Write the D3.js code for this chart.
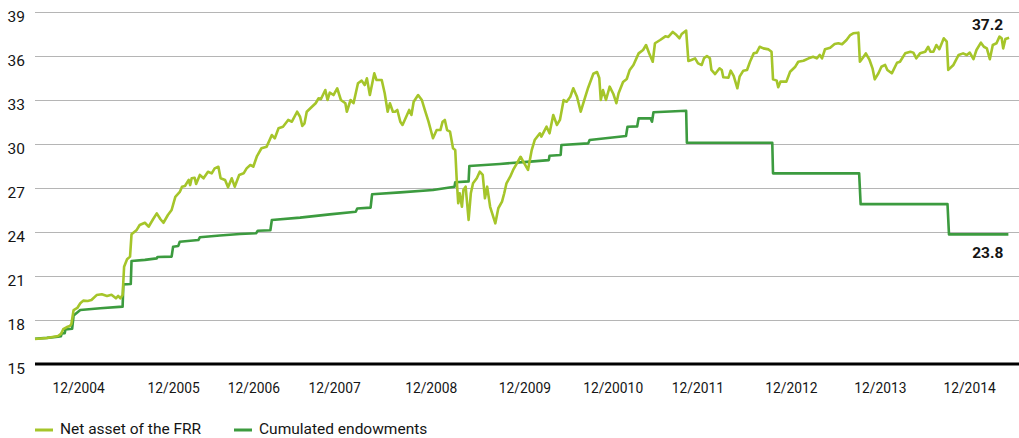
<!DOCTYPE html>
<html>
<head>
<meta charset="utf-8">
<script src="https://cdn.jsdelivr.net/npm/d3@7"></script>
<style>
  body { margin: 0; background: #fff; }
  svg text { font-family: Roboto, "Liberation Sans", sans-serif; fill: #151515; }
</style>
</head>
<body>
<div id="chart"></div>
<script>
// x values are months counted from July 2004
var yTicks = [15, 18, 21, 24, 27, 30, 33, 36, 39];
var tickLabels = ["12/2004", "12/2005", "12/2006", "12/2007", "12/2008", "12/2009",
                  "12/20010", "12/2011", "12/2012", "12/2013", "12/2014"];
var tickMonths = [5.8, 18.6, 29.4, 40.3, 53.3, 65.9, 77.8, 89.2, 101.8, 113.8, 125.8];
var seriesNames = ["Net asset of the FRR", "Cumulated endowments"];
var endLabels = ["37.2", "23.8"];

// Net asset of the FRR (bn EUR)
var netAsset = [
  [0,16.70],[1.6,16.77],[3.1,16.91],[3.5,17.05],[3.8,17.37],[4.3,17.52],[4.7,17.59],[4.9,17.73],
  [5.2,18.68],[5.7,18.82],[6.1,19.14],[6.5,19.32],[7.1,19.30],[7.6,19.36],[8.3,19.70],[9.0,19.75],
  [9.7,19.64],[10.3,19.72],[10.9,19.48],[11.2,19.64],[11.5,19.48],[11.8,19.70],[12.0,21.63],[12.4,22.14],
  [12.8,22.32],[13.0,23.84],[13.7,24.14],[14.1,24.48],[14.8,24.63],[15.3,24.36],[15.9,24.87],[16.4,25.27],
  [16.9,24.87],[17.3,24.63],[17.9,25.16],[18.4,25.50],[18.9,26.39],[19.5,26.73],[19.8,27.09],[20.2,27.14],
  [20.7,27.55],[20.9,27.20],[21.1,27.66],[21.5,27.70],[21.7,27.27],[22.2,27.89],[22.7,27.66],[23.3,28.11],
  [23.8,28.00],[24.2,28.34],[24.7,28.45],[25.0,27.66],[25.6,27.55],[26.0,27.05],[26.5,27.66],[26.9,27.09],
  [27.5,27.89],[28.1,28.00],[28.5,28.34],[29.0,28.57],[29.4,28.45],[29.9,29.18],[30.5,29.71],[31.2,29.82],
  [31.9,30.61],[32.3,30.39],[32.8,31.07],[33.4,31.18],[34.1,31.64],[34.6,31.52],[35.3,32.20],[35.7,31.86],
  [36.0,31.23],[36.3,31.41],[36.6,32.20],[37.3,32.54],[37.8,32.78],[38.2,33.12],[38.5,33.05],[39.1,33.68],
  [39.4,33.00],[39.7,33.50],[40.2,33.34],[40.7,33.80],[41.2,33.00],[41.8,32.78],[42.0,32.20],[42.5,33.00],
  [42.9,32.78],[43.5,34.14],[44.0,34.32],[44.4,34.02],[44.7,34.48],[45.1,33.34],[45.7,34.82],[46.0,34.36],
  [46.7,34.36],[47.1,33.46],[47.5,32.20],[47.8,32.78],[48.2,32.20],[48.5,32.20],[48.8,32.32],[49.2,31.52],
  [49.5,31.30],[50.1,31.98],[50.4,32.32],[50.7,31.98],[51.0,32.88],[51.6,33.34],[52.1,33.00],[52.5,32.32],
  [53.0,31.52],[53.6,30.39],[54.1,30.95],[54.6,30.95],[54.9,31.52],[55.2,31.64],[55.5,30.95],[55.9,30.84],
  [56.3,29.71],[56.6,29.59],[56.8,27.55],[57.0,25.96],[57.2,26.64],[57.5,25.72],[57.7,26.86],[58.0,27.09],
  [58.4,24.82],[58.7,26.64],[59.0,27.32],[59.5,27.66],[59.9,28.11],[60.3,27.89],[60.6,26.30],[60.9,27.09],
  [61.3,25.72],[62.0,24.59],[62.4,25.62],[62.9,26.07],[63.2,26.64],[63.5,27.32],[64.0,27.77],[64.4,28.23],
  [64.9,28.68],[65.4,29.13],[65.9,28.68],[66.4,28.23],[66.9,29.59],[67.3,30.27],[68.0,30.73],[68.2,30.50],
  [68.9,31.18],[69.3,30.73],[69.8,31.98],[70.3,31.30],[70.7,31.64],[71.2,33.00],[71.6,32.88],[72.1,33.22],
  [72.5,33.80],[73.0,33.22],[73.5,32.20],[74.1,33.20],[74.5,33.84],[75.2,34.79],[75.7,34.91],[76.0,34.50],
  [76.2,33.00],[76.5,33.68],[76.9,33.00],[77.4,33.91],[77.9,33.41],[78.3,32.78],[78.6,33.46],[79.2,34.23],
  [79.7,34.43],[80.1,35.05],[80.6,35.39],[81.3,36.18],[81.9,36.41],[82.3,36.75],[82.7,36.20],[83.2,35.61],
  [83.5,36.87],[84.2,37.09],[84.9,37.34],[85.3,37.30],[85.9,37.64],[86.4,37.43],[86.8,37.21],[87.1,37.50],
  [87.7,37.73],[88.0,35.66],[88.4,35.73],[88.9,35.84],[89.3,35.50],[89.8,35.39],[90.1,35.84],[90.5,36.00],
  [90.9,35.84],[91.1,35.05],[91.6,34.77],[92.2,35.16],[92.5,35.05],[92.7,34.55],[93.4,34.52],[93.7,35.00],
  [94.1,34.64],[94.6,33.80],[94.9,34.59],[95.4,35.00],[95.9,35.05],[96.3,35.61],[96.8,36.18],[97.2,36.23],
  [97.6,36.63],[98.1,36.52],[98.8,36.45],[99.2,36.29],[99.4,34.41],[99.9,34.32],[100.1,33.87],[100.4,34.25],
  [101.2,34.25],[101.7,34.93],[102.4,35.27],[102.8,35.61],[103.5,35.68],[104.2,35.84],[104.8,35.95],[105.3,35.84],
  [105.7,36.07],[106.0,35.84],[106.4,36.46],[107.1,36.57],[107.7,36.82],[108.2,36.87],[108.7,36.80],[109.3,37.09],
  [109.8,37.43],[110.2,37.55],[110.9,37.59],[111.1,35.61],[111.6,35.95],[111.9,36.18],[112.4,35.73],[112.8,35.16],
  [113.1,34.41],[113.6,34.82],[114.0,35.27],[114.5,35.39],[114.8,35.05],[115.4,34.82],[116.1,35.54],[116.5,35.61],
  [117.2,36.18],[117.9,36.29],[118.3,36.23],[118.7,35.84],[119.2,36.18],[119.9,36.29],[120.3,36.63],[120.6,36.29],
  [121.0,36.29],[121.4,36.75],[121.8,36.46],[122.4,37.21],[122.8,36.98],[123.0,35.05],[123.7,35.39],[124.4,36.07],
  [125.0,36.18],[125.5,36.07],[125.9,36.23],[126.4,35.78],[126.8,36.41],[127.4,36.91],[127.8,36.63],[128.2,36.52],
  [128.6,35.78],[129.0,36.75],[129.5,36.87],[129.9,37.32],[130.2,37.21],[130.4,36.52],[130.7,37.16],[131.2,37.25]
];

// Cumulated endowments (bn EUR)
var endowments = [
  [0,16.72],[1.6,16.78],[3.1,16.86],[3.5,16.90],[3.6,17.09],[4.0,17.10],[4.1,17.36],[5.0,17.40],
  [5.2,18.30],[6.1,18.68],[8.8,18.80],[11.8,18.91],[11.9,20.43],[12.9,20.45],[13.0,22.02],[14.8,22.10],
  [16.4,22.20],[16.5,22.30],[18.4,22.32],[18.6,23.00],[19.3,23.05],[19.5,23.34],[22.0,23.45],[22.2,23.64],
  [24.9,23.76],[27.6,23.86],[29.8,23.92],[30.0,24.09],[31.7,24.12],[31.9,24.82],[35.7,24.98],[39.7,25.20],
  [43.2,25.38],[43.4,25.60],[45.2,25.66],[45.4,26.57],[49.2,26.70],[53.6,26.86],[56.5,27.08],[56.6,27.39],
  [58.4,27.45],[58.5,28.50],[62.6,28.64],[66.7,28.80],[69.2,28.90],[69.3,29.20],[70.8,29.25],[70.9,29.93],
  [74.5,30.04],[74.7,30.27],[79.6,30.55],[79.8,31.18],[81.1,31.20],[81.3,31.75],[82.9,31.75],[83.1,31.52],
  [83.3,32.16],[87.7,32.27],[87.8,30.09],[99.3,30.09],[99.4,28.00],[111.0,28.00],[111.2,25.90],[122.9,25.90],
  [123.1,23.84],[131.1,23.84]
];

var colors = ["#a5c52a", "#3c9b3f"];

var W = 1019, H = 438;
var plotLeft = 35, plotRight = 1019, plotTop = 12, plotBottom = 364;

var svg = d3.select("#chart")
  .append("svg")
  .attr("width", W)
  .attr("height", H);

var x = d3.scaleLinear()
  .domain([0, 132.53])
  .range([plotLeft, plotRight]);

var y = d3.scaleLinear()
  .domain([15, 39])
  .range([plotBottom, plotTop]);

// gridlines
var grid = svg.append("g")
  .attr("transform", "translate(" + plotLeft + ",0)")
  .call(d3.axisLeft(y).tickValues(yTicks.slice(1)).tickSize(-(plotRight - plotLeft)).tickFormat(""));
grid.select(".domain").remove();
grid.selectAll("line").attr("stroke", "#b5b5b5").attr("stroke-width", 1.2);

// y labels
var yAxis = svg.append("g")
  .attr("transform", "translate(" + plotLeft + ",0)")
  .call(d3.axisLeft(y).tickValues(yTicks).tickSize(0).tickPadding(10));
yAxis.select(".domain").remove();
yAxis.selectAll("text")
  .attr("dy", "0.62em")
  .style("font-size", "15.5px");

// x labels
var xAxis = svg.append("g")
  .attr("transform", "translate(0," + plotBottom + ")")
  .call(d3.axisBottom(x).tickValues(tickMonths).tickSize(0).tickPadding(19)
    .tickFormat(function(d, i) { return tickLabels[i]; }));
xAxis.select(".domain").remove();
xAxis.selectAll("text").style("font-size", "13.8px");

// lines
var line = d3.line()
  .x(function(d) { return x(d[0]); })
  .y(function(d) { return y(d[1]); });

svg.append("path")
  .datum(endowments)
  .attr("fill", "none")
  .attr("stroke", colors[1])
  .attr("stroke-width", 2.6)
  .attr("stroke-linejoin", "round")
  .attr("d", line);

svg.append("path")
  .datum(netAsset)
  .attr("fill", "none")
  .attr("stroke", colors[0])
  .attr("stroke-width", 2.6)
  .attr("stroke-linejoin", "round")
  .attr("d", line);

// base line
svg.append("line")
  .attr("x1", plotLeft).attr("x2", plotRight)
  .attr("y1", y(15)).attr("y2", y(15))
  .attr("stroke", "#000")
  .attr("stroke-width", 3.2);

// end values
var lastNet = netAsset[netAsset.length - 1];
var lastEnd = endowments[endowments.length - 1];
svg.append("text")
  .attr("x", x(lastNet[0]) - 6)
  .attr("y", y(lastNet[1]) - 8)
  .attr("text-anchor", "end")
  .style("font-size", "15.5px")
  .style("font-weight", "bold")
  .text(endLabels[0]);
svg.append("text")
  .attr("x", x(lastEnd[0]) - 5)
  .attr("y", y(lastEnd[1]) + 24)
  .attr("text-anchor", "end")
  .style("font-size", "15.5px")
  .style("font-weight", "bold")
  .text(endLabels[1]);

// legend
var legendX = [35, 234];
var legend = svg.selectAll(".legend")
  .data(seriesNames)
  .enter()
  .append("g")
  .attr("class", "legend")
  .attr("transform", function(d, i) { return "translate(" + legendX[i] + ",428.5)"; });
legend.append("line")
  .attr("x1", 0).attr("x2", 18)
  .attr("y1", 1.5).attr("y2", 1.5)
  .attr("stroke", function(d, i) { return colors[i]; })
  .attr("stroke-width", 3);
legend.append("text")
  .attr("x", 25)
  .attr("dy", "0.35em")
  .style("font-size", "15.5px")
  .text(function(d) { return d; });
</script>
</body>
</html>
